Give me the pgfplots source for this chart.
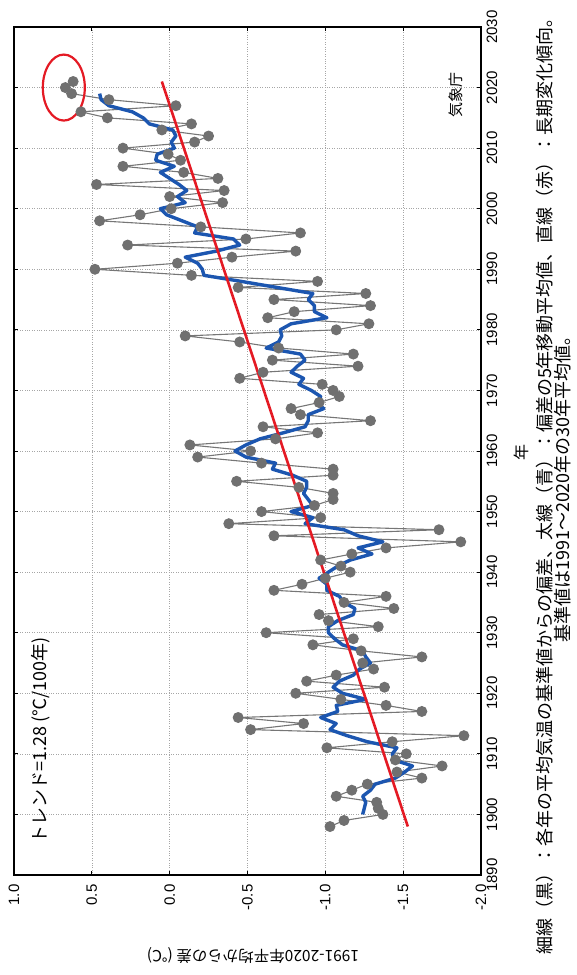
\documentclass[border=0pt]{standalone}
\usepackage{pgfplots}
\pgfplotsset{compat=1.18}
\usepackage{pgfplotstable}
\usepackage{fontspec}
\setmainfont{Liberation Sans}
\newfontfamily\jp{Noto Sans CJK JP}

\definecolor{dotgray}{RGB}{112,112,112}
\definecolor{linegray}{RGB}{118,118,118}
\definecolor{mablue}{RGB}{28,86,176}
\definecolor{trendred}{RGB}{228,26,36}

% annual anomaly (deg C, relative to 1991-2020)
\pgfplotstableread{
year anom
1898 -1.03
1899 -1.12
1900 -1.37
1901 -1.34
1902 -1.33
1903 -1.07
1904 -1.17
1905 -1.27
1906 -1.62
1907 -1.46
1908 -1.75
1909 -1.45
1910 -1.52
1911 -1.01
1912 -1.43
1913 -1.89
1914 -0.52
1915 -0.86
1916 -0.44
1917 -1.62
1918 -1.39
1919 -1.10
1920 -0.81
1921 -1.38
1922 -0.88
1923 -1.07
1924 -1.31
1925 -1.24
1926 -1.62
1927 -1.23
1928 -0.92
1929 -1.18
1930 -0.62
1931 -1.34
1932 -1.02
1933 -0.96
1934 -1.44
1935 -1.12
1936 -1.39
1937 -0.67
1938 -0.85
1939 -1.00
1940 -1.16
1941 -1.10
1942 -0.97
1943 -1.17
1944 -1.39
1945 -1.87
1946 -0.67
1947 -1.73
1948 -0.38
1949 -0.97
1950 -0.59
1951 -0.93
1952 -1.05
1953 -1.05
1954 -0.83
1955 -0.43
1956 -1.05
1957 -1.05
1958 -0.59
1959 -0.18
1960 -0.52
1961 -0.13
1962 -0.68
1963 -0.95
1964 -0.60
1965 -1.29
1966 -0.84
1967 -0.78
1968 -0.96
1969 -1.09
1970 -1.05
1971 -0.98
1972 -0.45
1973 -0.60
1974 -1.21
1975 -0.66
1976 -1.18
1977 -0.70
1978 -0.45
1979 -0.10
1980 -1.07
1981 -1.28
1982 -0.63
1983 -0.80
1984 -1.29
1985 -0.67
1986 -1.26
1987 -0.44
1988 -0.95
1989 -0.14
1990 0.48
1991 -0.05
1992 -0.40
1993 -0.81
1994 0.27
1995 -0.49
1996 -0.84
1997 -0.20
1998 0.45
1999 0.19
2000 -0.01
2001 -0.34
2002 0.00
2003 -0.35
2004 0.47
2005 -0.31
2006 -0.09
2007 0.30
2008 -0.07
2009 0.01
2010 0.30
2011 -0.16
2012 -0.25
2013 0.05
2014 -0.14
2015 0.40
2016 0.57
2017 -0.04
2018 0.39
2019 0.63
2020 0.67
2021 0.62
}\annual

% 5-year running mean
\pgfplotstableread{
year ma
1900 -1.24
1901 -1.25
1902 -1.26
1903 -1.24
1904 -1.29
1905 -1.32
1906 -1.45
1907 -1.51
1908 -1.56
1909 -1.44
1910 -1.43
1911 -1.46
1912 -1.27
1913 -1.14
1914 -1.03
1915 -1.07
1916 -0.97
1917 -1.08
1918 -1.07
1919 -1.26
1920 -1.11
1921 -1.05
1922 -1.09
1923 -1.18
1924 -1.22
1925 -1.29
1926 -1.26
1927 -1.24
1928 -1.11
1929 -1.06
1930 -1.02
1931 -1.02
1932 -1.08
1933 -1.18
1934 -1.19
1935 -1.12
1936 -1.09
1937 -1.01
1938 -1.01
1939 -0.96
1940 -1.02
1941 -1.08
1942 -1.16
1943 -1.30
1944 -1.21
1945 -1.37
1946 -1.21
1947 -1.12
1948 -0.87
1949 -0.92
1950 -0.78
1951 -0.92
1952 -0.89
1953 -0.86
1954 -0.88
1955 -0.88
1956 -0.79
1957 -0.66
1958 -0.68
1959 -0.49
1960 -0.42
1961 -0.49
1962 -0.58
1963 -0.73
1964 -0.87
1965 -0.89
1966 -0.89
1967 -0.99
1968 -0.94
1969 -0.97
1970 -0.91
1971 -0.83
1972 -0.86
1973 -0.78
1974 -0.82
1975 -0.87
1976 -0.84
1977 -0.62
1978 -0.70
1979 -0.72
1980 -0.71
1981 -0.78
1982 -1.01
1983 -0.93
1984 -0.93
1985 -0.89
1986 -0.92
1987 -0.69
1988 -0.46
1989 -0.22
1990 -0.21
1991 -0.18
1992 -0.10
1993 -0.30
1994 -0.45
1995 -0.41
1996 -0.16
1997 -0.18
1998 -0.08
1999 0.02
2000 0.06
2001 -0.10
2002 -0.05
2003 -0.11
2004 -0.06
2005 0.00
2006 0.06
2007 -0.03
2008 0.09
2009 0.08
2010 -0.03
2011 -0.01
2012 -0.04
2013 -0.02
2014 0.13
2015 0.17
2016 0.24
2017 0.39
2018 0.44
2019 0.45
}\movavg

\begin{document}
\begin{tikzpicture}
\path[use as bounding box] (-14pt,-100pt) rectangle (562pt,875pt);
\begin{axis}[
  at={(0pt,0pt)}, anchor=south west,
  scale only axis, width=467pt, height=848pt,
  x dir=reverse,
  xmin=-2, xmax=1, ymin=1890, ymax=2030,
  xtick={-2,-1.5,-1,-0.5,0,0.5,1},
  ytick={1890,1900,1910,1920,1930,1940,1950,1960,1970,1980,1990,2000,2010,2020,2030},
  grid=major,
  grid style={dotted, line width=0.6pt, black!35},
  axis line style={line width=1.4pt},
  tick style={black, line width=0.8pt},
  major tick length=4pt,
  /pgf/number format/assume math mode=true,
  xticklabel style={rotate=90, anchor=east, font=\fontsize{15}{15}\selectfont,
    /pgf/number format/.cd, fixed, fixed zerofill, precision=1, /tikz/.cd},
  xticklabel shift=6pt,
  yticklabel pos=right,
  yticklabel style={rotate=90, anchor=north, font=\fontsize{15}{15}\selectfont,
    /pgf/number format/.cd, 1000 sep={}, /tikz/.cd},
  yticklabel shift=2pt,
]
\addplot[linegray, line width=1.1pt, mark=*, mark size=4.9pt,
  mark options={fill=dotgray, draw=dotgray}]
  table[x=anom, y=year] {\annual};
\addplot[mablue, line width=3.4pt, line join=round, no marks]
  table[x=ma, y=year] {\movavg};
\addplot[trendred, line width=2.6pt, no marks]
  coordinates {(-1.53,1898) (0.05,2021)};
\draw[trendred, line width=2.2pt] (axis cs:0.68,2020) ellipse [x radius=21pt, y radius=33pt];
\node[rotate=90, font=\jp\fontsize{15}{15}\selectfont] at (axis cs:-1.84,2018.8) {気象庁};
\node[rotate=90, font=\jp\fontsize{18}{18}\selectfont] at (axis cs:0.83,1912.2) {トレンド=1.28 (℃/100年)};
\end{axis}
\node[rotate=90, font=\jp\fontsize{16}{16}\selectfont] at (507pt,422pt) {年};
\node[rotate=180, font=\jp\fontsize{15.5}{15.5}\selectfont] at (239pt,-81pt) {1991-2020年平均からの差 (℃)};
\node[rotate=90, font=\jp\fontsize{18}{18}\selectfont] at (531pt,393pt)
  {細線（黒）：各年の平均気温の基準値からの偏差、太線（青）：偏差の5年移動平均値、直線（赤）：長期変化傾向。};
\node[rotate=90, font=\jp\fontsize{18}{18}\selectfont] at (549pt,390pt)
  {基準値は1991〜2020年の30年平均値。};
\end{tikzpicture}
\end{document}
